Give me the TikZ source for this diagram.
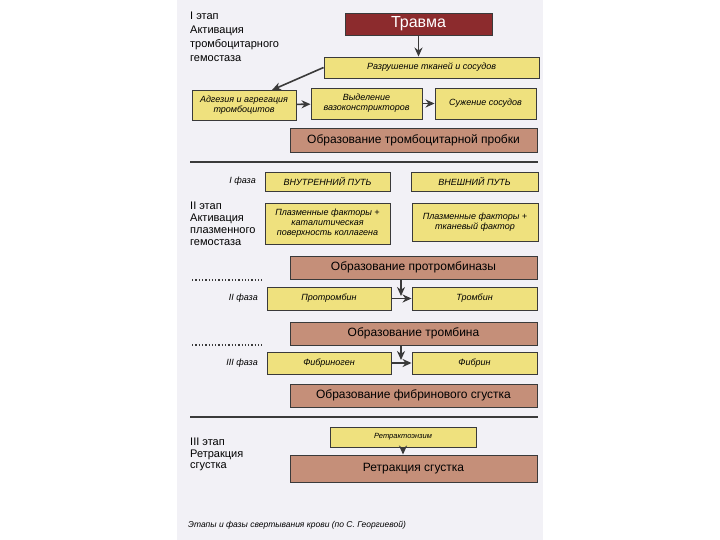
\documentclass[tikz,border=0pt]{standalone}
\usepackage{fontspec}
\setmainfont{Liberation Sans}
\usetikzlibrary{positioning, arrows.meta}
\definecolor{paper}{HTML}{F2F1F6}
\definecolor{yellowfill}{HTML}{EFE17E}
\definecolor{brownfill}{HTML}{C58F79}
\definecolor{traumared}{HTML}{8C2B2D}
\definecolor{edgegray}{HTML}{3A3A3A}

\begin{document}
\begin{tikzpicture}[x=1pt, y=-1pt,
   ybox/.style={draw=edgegray, fill=yellowfill, line width=0.9pt, inner sep=1pt,
                align=center, font=\fontsize{9}{10}\selectfont\itshape},
   bbox/.style={draw=edgegray, fill=brownfill, line width=0.9pt,
                minimum width=247pt, minimum height=23pt, font=\fontsize{12}{13}\selectfont},
   stage/.style={anchor=north west, align=left, inner sep=0pt},
   phase/.style={anchor=east, inner sep=0pt, font=\fontsize{9}{10}\selectfont\itshape},
   arr/.style={-{Stealth[length=9pt, width=8pt]}, draw=edgegray, line width=1.6pt},
   sep/.style={draw=edgegray, line width=1.8pt}]
   \useasboundingbox (0,0) rectangle (720,540);
   \fill[paper] (177,0) rectangle (543,540);

   % I этап
   \node[stage, font=\fontsize{11}{14}\selectfont] (st1) at (190,12)
      {I этап\\Активация\\тромбоцитарного\\гемостаза};
   \node[draw=edgegray, fill=traumared, text=white, line width=0.9pt,
         minimum width=147pt, minimum height=22pt, font=\fontsize{16}{17}\selectfont]
      (travma) at (418.5,24) {Травма};
   \node[ybox, minimum width=215pt, minimum height=21pt] (razr) at (431.5,67.5)
      {Разрушение тканей и сосудов};
   \node[ybox, minimum width=104pt, minimum height=30pt] (adg) at (244,105)
      {Адгезия и агрегация\\тромбоцитов};
   \node[ybox, minimum width=111pt, minimum height=31pt] (vyd) at (366.5,103.5)
      {Выделение\\вазоконстрикторов};
   \node[ybox, minimum width=101pt, minimum height=31pt] (suzh) at (485.5,103.5)
      {Сужение сосудов};
   \node[bbox, minimum height=24pt] (probka) at (413.5,140)
      {Образование тромбоцитарной пробки};
   \coordinate (adgtop) at (272,90);

   \draw[arr] (travma.south) -- (travma.south |- razr.north);
   \draw[arr] (razr.west) -- (adgtop);
   \draw[arr] (adg) -- (vyd);
   \draw[arr] (vyd) -- (suzh);

   \draw[sep] (190,162) -- (538,162);

   % II этап
   \node[phase] (ph1) at (256,181) {I фаза};
   \node[ybox, minimum width=125pt, minimum height=19pt] (vnutr) at (327.5,181.5)
      {ВНУТРЕННИЙ ПУТЬ};
   \node[ybox, minimum width=127pt, minimum height=19pt] (vnesh) at (474.5,181.5)
      {ВНЕШНИЙ ПУТЬ};
   \node[stage, font=\fontsize{11}{12}\selectfont] (st2) at (190,202)
      {II этап\\Активация\\плазменного\\гемостаза};
   \node[ybox, minimum width=125pt, minimum height=41pt] (pf1) at (327.5,223.5)
      {Плазменные факторы +\\каталитическая\\поверхность коллагена};
   \node[ybox, minimum width=126pt, minimum height=38pt] (pf2) at (475,222)
      {Плазменные факторы +\\тканевый фактор};
   \node[bbox] (protrombinaza) at (413.5,267.5) {Образование протромбиназы};

   \draw[edgegray, dotted, line width=1.3pt] (192,280) -- (262,280);
   \node[phase] (ph2) at (258,298) {II фаза};
   \node[ybox, minimum width=124pt, minimum height=23pt] (protrombin) at (329,298.5)
      {Протромбин};
   \node[ybox, minimum width=125pt, minimum height=23pt] (trombin) at (474.5,298.5)
      {Тромбин};
   \coordinate (j1) at (401,296);
   \node[bbox] (obrtrombina) at (413.5,333.5) {Образование тромбина};

   \draw[edgegray, dotted, line width=1.3pt] (192,345) -- (262,345);
   \node[phase] (ph3) at (258,363) {III фаза};
   \node[ybox, minimum width=124pt, minimum height=22pt] (fibrinogen) at (329,363)
      {Фибриноген};
   \node[ybox, minimum width=125pt, minimum height=22pt] (fibrin) at (474.5,363)
      {Фибрин};
   \coordinate (j2) at (401,360);
   \node[bbox] (sgustok) at (413.5,395.5) {Образование фибринового сгустка};

   \draw[arr] (protrombinaza.south -| j1) -- (j1);
   \draw[arr] (protrombin) -- (trombin);
   \draw[arr] (obrtrombina.south -| j2) -- (j2);
   \draw[arr] (fibrinogen) -- (fibrin);

   \draw[sep] (190,417) -- (538,417);

   % III этап
   \node[stage, font=\fontsize{11}{11.5}\selectfont] (st3) at (190,438)
      {III этап\\Ретракция\\сгустка};
   \node[ybox, minimum width=146pt, minimum height=20pt, font=\fontsize{7.5}{8}\selectfont\itshape]
      (enzim) at (403,437) {Ретрактоэнзим};
   \node[bbox, minimum height=27pt] (retr) at (413.5,468.5) {Ретракция сгустка};
   \draw[arr] (enzim.south) -- (enzim.south |- retr.north);

   \node[anchor=west, inner sep=0pt, font=\fontsize{8.5}{9}\selectfont\itshape]
      (caption) at (188,525) {Этапы и фазы свертывания крови (по С. Георгиевой)};
\end{tikzpicture}
\end{document}
